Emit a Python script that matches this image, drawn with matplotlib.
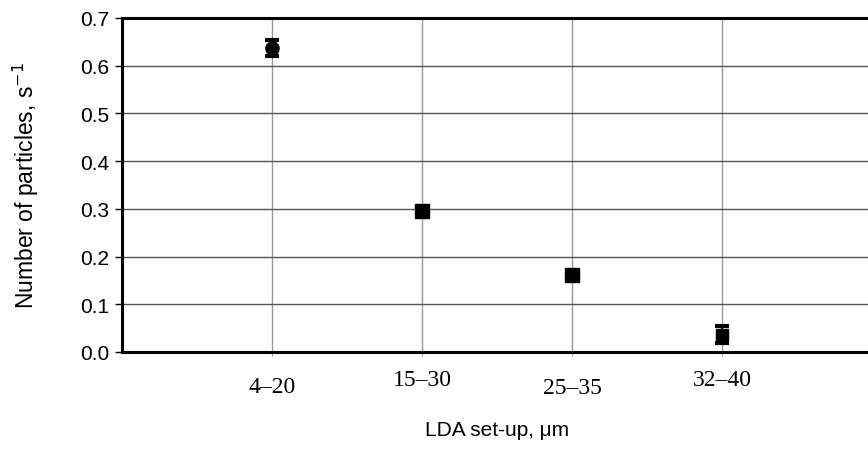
import matplotlib.pyplot as plt
import numpy as np

categories = ["4\u201320", "15\u201330", "25\u201335", "32\u201340"]
values = [0.637, 0.295, 0.161, 0.036]
errors = [0.017, 0.004, 0.003, 0.018]
markers = ["o", "s", "s", "s"]
marker_sizes = [9.5, 9.5, 9.5, 9.0]
y_ticks = [0.0, 0.1, 0.2, 0.3, 0.4, 0.5, 0.6, 0.7]
label_pads = [14, 9, 15, 9]

plt.rcParams['font.family'] = ['Liberation Sans', 'DejaVu Sans']

fig = plt.figure(figsize=(8.68, 4.6), dpi=100)
ax = fig.add_axes([122 / 868, 107 / 460, 750 / 868, 334 / 460])

x = np.arange(1, len(categories) + 1)
for xi, v, e, m, ms in zip(x, values, errors, markers, marker_sizes):
    ax.errorbar(xi, v, yerr=e, fmt=m, color="black", markersize=ms,
                capsize=5, capthick=3, elinewidth=1.5, zorder=5)

ax.set_xlim(0, 5)
ax.set_ylim(0, 0.7)
ax.set_yticks(y_ticks)
ax.set_yticklabels(["%.1f" % t for t in y_ticks], fontsize=15)
ax.set_xticks(x)
ax.set_xticklabels(categories, family=['Liberation Serif', 'DejaVu Serif'], fontsize=17)
ax.tick_params(axis="x", length=3, color="#999999")
ax.tick_params(axis="y", length=5, width=1, direction="out", pad=4)
for tick, p in zip(ax.xaxis.get_major_ticks(), label_pads):
    tick.set_pad(p)

ax.yaxis.grid(True, color="#555555", linewidth=1)
ax.xaxis.grid(True, color="#999999", linewidth=1)
ax.set_axisbelow(True)

for s in ["left", "bottom", "top"]:
    ax.spines[s].set_linewidth(2.2)
ax.spines["right"].set_visible(False)

ax.set_xlabel("LDA set-up, \u03bcm", fontsize=15, labelpad=16)
ax.set_ylabel("Number of particles, s$^{-1}$", fontsize=16.5, labelpad=28)

fig.savefig("out.png", dpi=100)
